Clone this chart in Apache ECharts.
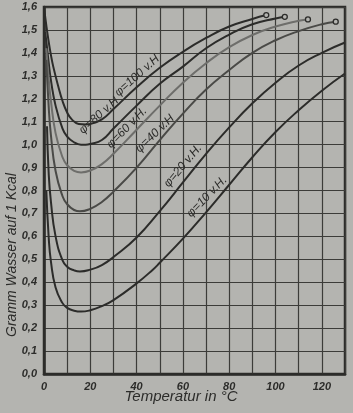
<!DOCTYPE html>
<html>
<head>
<meta charset="utf-8">
<title>Gramm Wasser auf 1 Kcal</title>
<script src="https://cdn.jsdelivr.net/npm/echarts@6/dist/echarts.min.js"></script>
<style>
  html, body { margin: 0; padding: 0; background: #b4b4b0; }
  #chart { width: 353px; height: 413px; }
</style>
</head>
<body>
<div id="chart"></div>
<script>
// Temperatur (°C) und Gramm Wasser je Kcal
const phi100T = [0, 1, 2, 3, 4, 6, 8, 10, 12, 15, 18, 20, 25, 30, 40, 50, 60, 70, 80, 90, 96]
const phi100V = [1.60, 1.52, 1.45, 1.39, 1.34, 1.26, 1.19, 1.14, 1.11, 1.09, 1.088, 1.09, 1.11, 1.155, 1.25, 1.335, 1.405, 1.465, 1.515, 1.548, 1.565]

const phi80T = [0.5, 1, 2, 3, 5, 8, 10, 13, 16, 18, 20, 25, 30, 40, 50, 60, 70, 80, 90, 100, 104]
const phi80V = [1.49, 1.45, 1.36, 1.28, 1.17, 1.07, 1.035, 1.01, 1.0, 1.0, 1.003, 1.02, 1.07, 1.17, 1.265, 1.34, 1.42, 1.48, 1.525, 1.55, 1.557]

const phi60T = [1, 2, 3, 5, 8, 10, 13, 16, 20, 25, 30, 40, 50, 60, 70, 80, 90, 100, 110, 114]
const phi60V = [1.42, 1.29, 1.19, 1.05, 0.945, 0.91, 0.886, 0.879, 0.887, 0.915, 0.96, 1.065, 1.17, 1.27, 1.355, 1.425, 1.478, 1.515, 1.54, 1.546]

const phi40T = [1, 2, 3, 5, 8, 10, 13, 15.5, 20, 25, 30, 40, 50, 60, 70, 80, 90, 100, 110, 120, 126]
const phi40V = [1.37, 1.17, 1.04, 0.885, 0.775, 0.74, 0.715, 0.709, 0.72, 0.75, 0.795, 0.9, 1.02, 1.135, 1.24, 1.325, 1.4, 1.455, 1.495, 1.525, 1.536]

const phi20T = [1.3, 2, 3, 5, 8, 10, 13, 15.5, 20, 25, 30, 40, 50, 60, 70, 80, 90, 100, 110, 120, 130]
const phi20V = [1.08, 0.88, 0.75, 0.6, 0.495, 0.468, 0.452, 0.447, 0.455, 0.475, 0.51, 0.595, 0.71, 0.835, 0.96, 1.075, 1.18, 1.27, 1.345, 1.4, 1.445]

const phi10T = [1, 2, 3, 5, 8, 10, 13, 16, 20, 25, 30, 40, 47, 50, 60, 70, 80, 90, 100, 110, 120, 130]
const phi10V = [0.8, 0.6, 0.49, 0.377, 0.309, 0.288, 0.276, 0.272, 0.278, 0.296, 0.322, 0.395, 0.455, 0.485, 0.59, 0.705, 0.825, 0.945, 1.055, 1.15, 1.235, 1.31]

const curveNames = ['φ=100 v.H', 'φ=80 v.H', 'φ=60 v.H.', 'φ=40 v.H', 'φ=20 v.H.', 'φ=10 v.H.']
// Kurven, die am Siedepunkt mit einem Kreis enden
const endsInCircle = [true, true, true, true, false, false]

const xTickLabels = ['0', '20', '40', '60', '80', '100', '120']
const yTickLabels = ['0,0', '0,1', '0,2', '0,3', '0,4', '0,5', '0,6', '0,7', '0,8', '0,9', '1,0', '1,1', '1,2', '1,3', '1,4', '1,5', '1,6']

const curves = [
  [phi100T, phi100V],
  [phi80T, phi80V],
  [phi60T, phi60V],
  [phi40T, phi40V],
  [phi20T, phi20V],
  [phi10T, phi10V],
]

const ink = '#2c2c2a'
const paper = '#b4b4b0'
const lineColors = [ink, ink, '#6e6e6b', '#4a4a47', ink, ink]

// label anchor (data coords) and slope of the handwritten curve labels
const labelSpots = [
  { at: [40.2, 1.30], deg: 42 },
  { at: [23.7, 1.127], deg: 42 },
  { at: [35.8, 1.074], deg: 46 },
  { at: [47.9, 1.048], deg: 44 },
  { at: [60.0, 0.908], deg: 50 },
  { at: [70.4, 0.773], deg: 46 },
]

const tickFont = {
  fontFamily: 'Liberation Sans',
  fontStyle: 'italic',
  fontWeight: 'bold',
}

const chart = echarts.init(document.getElementById('chart'))

const series = curves.map(([ts, vs], k) => {
  const data = ts.map((t, i) => [t, vs[i]])
  if (endsInCircle[k]) {
    const last = data.length - 1
    data[last] = {
      value: data[last],
      symbol: 'circle',
      symbolSize: 5,
      itemStyle: { color: paper, borderColor: ink, borderWidth: 1.3 },
    }
  }
  return {
    name: curveNames[k],
    type: 'line',
    smooth: 0.5,
    symbol: 'none',
    showSymbol: true,
    silent: true,
    z: 5,
    lineStyle: { color: lineColors[k], width: 2 },
    data,
  }
})

chart.setOption({
  backgroundColor: paper,
  animation: false,
  grid: {
    left: 44,
    right: 8,
    top: 7,
    bottom: 39,
    show: true,
    borderColor: ink,
    borderWidth: 2.5,
    outerBoundsMode: 'none',
  },
  xAxis: {
    type: 'value',
    min: 0,
    max: 130,
    interval: 10,
    axisLine: { show: true, lineStyle: { color: ink, width: 2.5 } },
    axisTick: { show: false },
    splitLine: { show: true, lineStyle: { color: '#3c3c39', width: 1.2 } },
    axisLabel: {
      ...tickFont,
      color: ink,
      fontSize: 11,
      margin: 7,
      showMaxLabel: false,
      formatter: (v) => (v % 20 === 0 ? xTickLabels[v / 20] || '' : ''),
    },
  },
  yAxis: {
    type: 'value',
    min: 0,
    max: 1.6,
    interval: 0.1,
    axisLine: { show: true, lineStyle: { color: ink, width: 2.5 } },
    axisTick: { show: false },
    splitLine: { show: true, lineStyle: { color: '#3c3c39', width: 1.2 } },
    axisLabel: {
      ...tickFont,
      color: ink,
      fontSize: 11,
      margin: 7,
      formatter: (v) => yTickLabels[Math.round(v * 10)],
    },
  },
  series,
})

const curveLabels = labelSpots.map((s, k) => {
  const [px, py] = chart.convertToPixel({ gridIndex: 0 }, s.at)
  return {
    type: 'text',
    x: px,
    y: py,
    rotation: (s.deg * Math.PI) / 180,
    z: 10,
    style: {
      text: curveNames[k],
      fontFamily: 'Liberation Sans',
      fontStyle: 'italic',
      fontSize: 12,
      fill: ink,
      align: 'center',
      verticalAlign: 'middle',
    },
  }
})

chart.setOption({
  graphic: [
    ...curveLabels,
    {
      type: 'text',
      x: 181,
      y: 397,
      style: {
        text: 'Temperatur in °C',
        fontFamily: 'Liberation Sans',
        fontStyle: 'italic',
        fontSize: 15,
        fill: ink,
        align: 'center',
        verticalAlign: 'middle',
      },
    },
    {
      type: 'text',
      x: 12,
      y: 255,
      rotation: Math.PI / 2,
      style: {
        text: 'Gramm Wasser auf 1 Kcal',
        fontFamily: 'Liberation Sans',
        fontStyle: 'italic',
        fontSize: 14,
        fill: ink,
        align: 'center',
        verticalAlign: 'middle',
      },
    },
  ],
})
</script>
</body>
</html>
